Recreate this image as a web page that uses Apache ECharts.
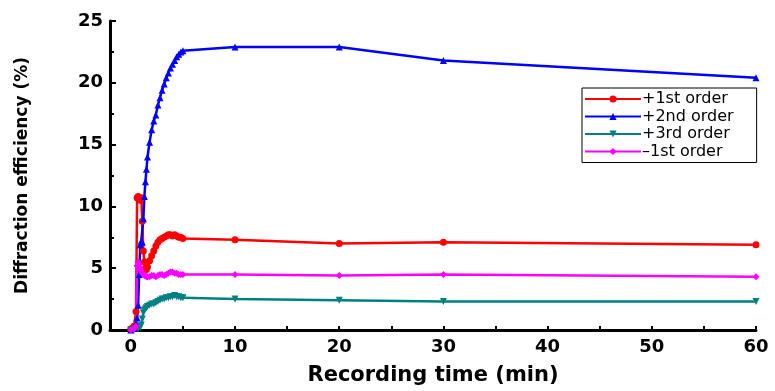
<!DOCTYPE html>
<html>
<head>
<meta charset="utf-8">
<script src="https://cdn.jsdelivr.net/npm/echarts@6/dist/echarts.min.js"></script>
<style>html,body{margin:0;padding:0;background:#fff;}#chart{width:775px;height:391px;}</style>
</head>
<body>
<div id="chart"></div>
<script>
var timeMin = [0, 0.3, 0.5, 0.6, 0.7, 0.8, 0.9, 1.0, 1.1, 1.2, 1.3, 1.4, 1.5, 1.6, 1.8, 2.0, 2.2, 2.4, 2.6, 2.8, 3.0, 3.2, 3.4, 3.6, 3.8, 4.0, 4.2, 4.4, 4.6, 4.8, 5.0, 10, 20, 30, 60];
var order1Plus = [0.1, 0.3, 1.5, 10.7, 10.8, 10.6, 10.5, 10.7, 8.8, 6.4, 5.5, 5.0, 4.9, 5.1, 5.6, 6.0, 6.4, 6.8, 7.1, 7.3, 7.4, 7.5, 7.6, 7.7, 7.7, 7.6, 7.7, 7.6, 7.5, 7.5, 7.4, 7.3, 7.0, 7.1, 6.9];
var order2Plus = [0, 0.2, 0.5, 1.0, 2.0, 4.5, 6.9, 7.2, 7.1, 9.0, 10.8, 12.0, 13.0, 14.0, 15.2, 16.2, 16.9, 17.4, 18.2, 18.8, 19.4, 19.9, 20.4, 20.8, 21.2, 21.5, 21.8, 22.1, 22.3, 22.5, 22.6, 22.9, 22.9, 21.8, 20.4];
var order3Plus = [0, 0, 0.1, 0.2, 0.1, 0.3, 0.2, 0.4, 0.9, 1.4, 1.6, 1.7, 1.8, 1.9, 2.0, 2.1, 2.1, 2.2, 2.3, 2.4, 2.5, 2.5, 2.6, 2.6, 2.7, 2.7, 2.8, 2.7, 2.7, 2.6, 2.6, 2.5, 2.4, 2.3, 2.3];
var order1Minus = [0, 0.1, 0.3, 5.2, 5.5, 5.3, 5.0, 4.8, 4.6, 4.5, 4.4, 4.4, 4.3, 4.3, 4.3, 4.4, 4.4, 4.3, 4.4, 4.5, 4.5, 4.4, 4.5, 4.6, 4.7, 4.7, 4.6, 4.6, 4.5, 4.5, 4.5, 4.5, 4.4, 4.5, 4.3];
var seriesNames = ['+1st order', '+2nd order', '+3rd order', '\u20131st order'];
var xTickLabels = [0, 10, 20, 30, 40, 50, 60];
var xTicks = [0, 5, 10, 15, 20, 25, 30, 35, 40, 45, 50, 55, 60];

function pairs(vals) { return timeMin.map(function (t, i) { return [t, vals[i]]; }); }

var chart = echarts.init(document.getElementById('chart'), null, {renderer: 'canvas'});
var boldFont = {fontFamily: 'DejaVu Sans', fontWeight: 'bold', color: '#000'};
function mk(name, data, color, symbol, rot) {
  return {
    name: name, type: 'line', data: pairs(data),
    symbol: symbol, symbolSize: 7, symbolRotate: rot || 0,
    lineStyle: {color: color, width: 2.5},
    itemStyle: {color: color},
    animation: false
  };
}
chart.setOption({
  backgroundColor: '#fff',
  animation: false,
  grid: {left: 110, right: 19, top: 21, bottom: 60, containLabel: false},
  legend: {
    data: seriesNames,
    orient: 'vertical', left: 582, top: 88,
    itemWidth: 56, itemHeight: 9, itemGap: 1.5,
    padding: [3, 23, 3, 2],
    borderColor: '#000', borderWidth: 1,
    textStyle: {fontFamily: 'DejaVu Sans', fontSize: 16, lineHeight: 15, color: '#000', padding: [0,0,0,-4]}
  },
  xAxis: {
    type: 'value', min: -2, max: 60,
    name: 'Recording time (min)', nameLocation: 'middle', nameGap: 35,
    nameTextStyle: Object.assign({fontSize: 21}, boldFont),
    axisLine: {show: true, onZero: false, lineStyle: {color: '#000', width: 3}},
    axisTick: {show: true, inside: true, length: 4, customValues: xTicks, lineStyle: {color: '#000', width: 2}},
    axisLabel: Object.assign({fontSize: 18, margin: 8, customValues: xTickLabels}, boldFont),
    splitLine: {show: false}
  },
  yAxis: {
    type: 'value', min: 0, max: 25, interval: 5,
    name: 'Diffraction efficiency (%)', nameLocation: 'middle', nameGap: 79,
    nameTextStyle: Object.assign({fontSize: 17}, boldFont),
    axisLine: {show: true, onZero: false, lineStyle: {color: '#000', width: 3}},
    axisTick: {show: true, inside: true, length: 6, lineStyle: {color: '#000', width: 2}},
    minorTick: {show: true, splitNumber: 2, length: 4, lineStyle: {color: '#000', width: 2}},
    axisLabel: Object.assign({fontSize: 18, margin: 7}, boldFont),
    splitLine: {show: false}
  },
  series: [
    mk(seriesNames[0], order1Plus, '#ff0000', 'circle'),
    mk(seriesNames[2], order3Plus, '#008080', 'triangle', 180),
    mk(seriesNames[1], order2Plus, '#0000ff', 'triangle'),
    mk(seriesNames[3], order1Minus, '#ff00ff', 'diamond')
  ]
});
</script>
</body>
</html>
